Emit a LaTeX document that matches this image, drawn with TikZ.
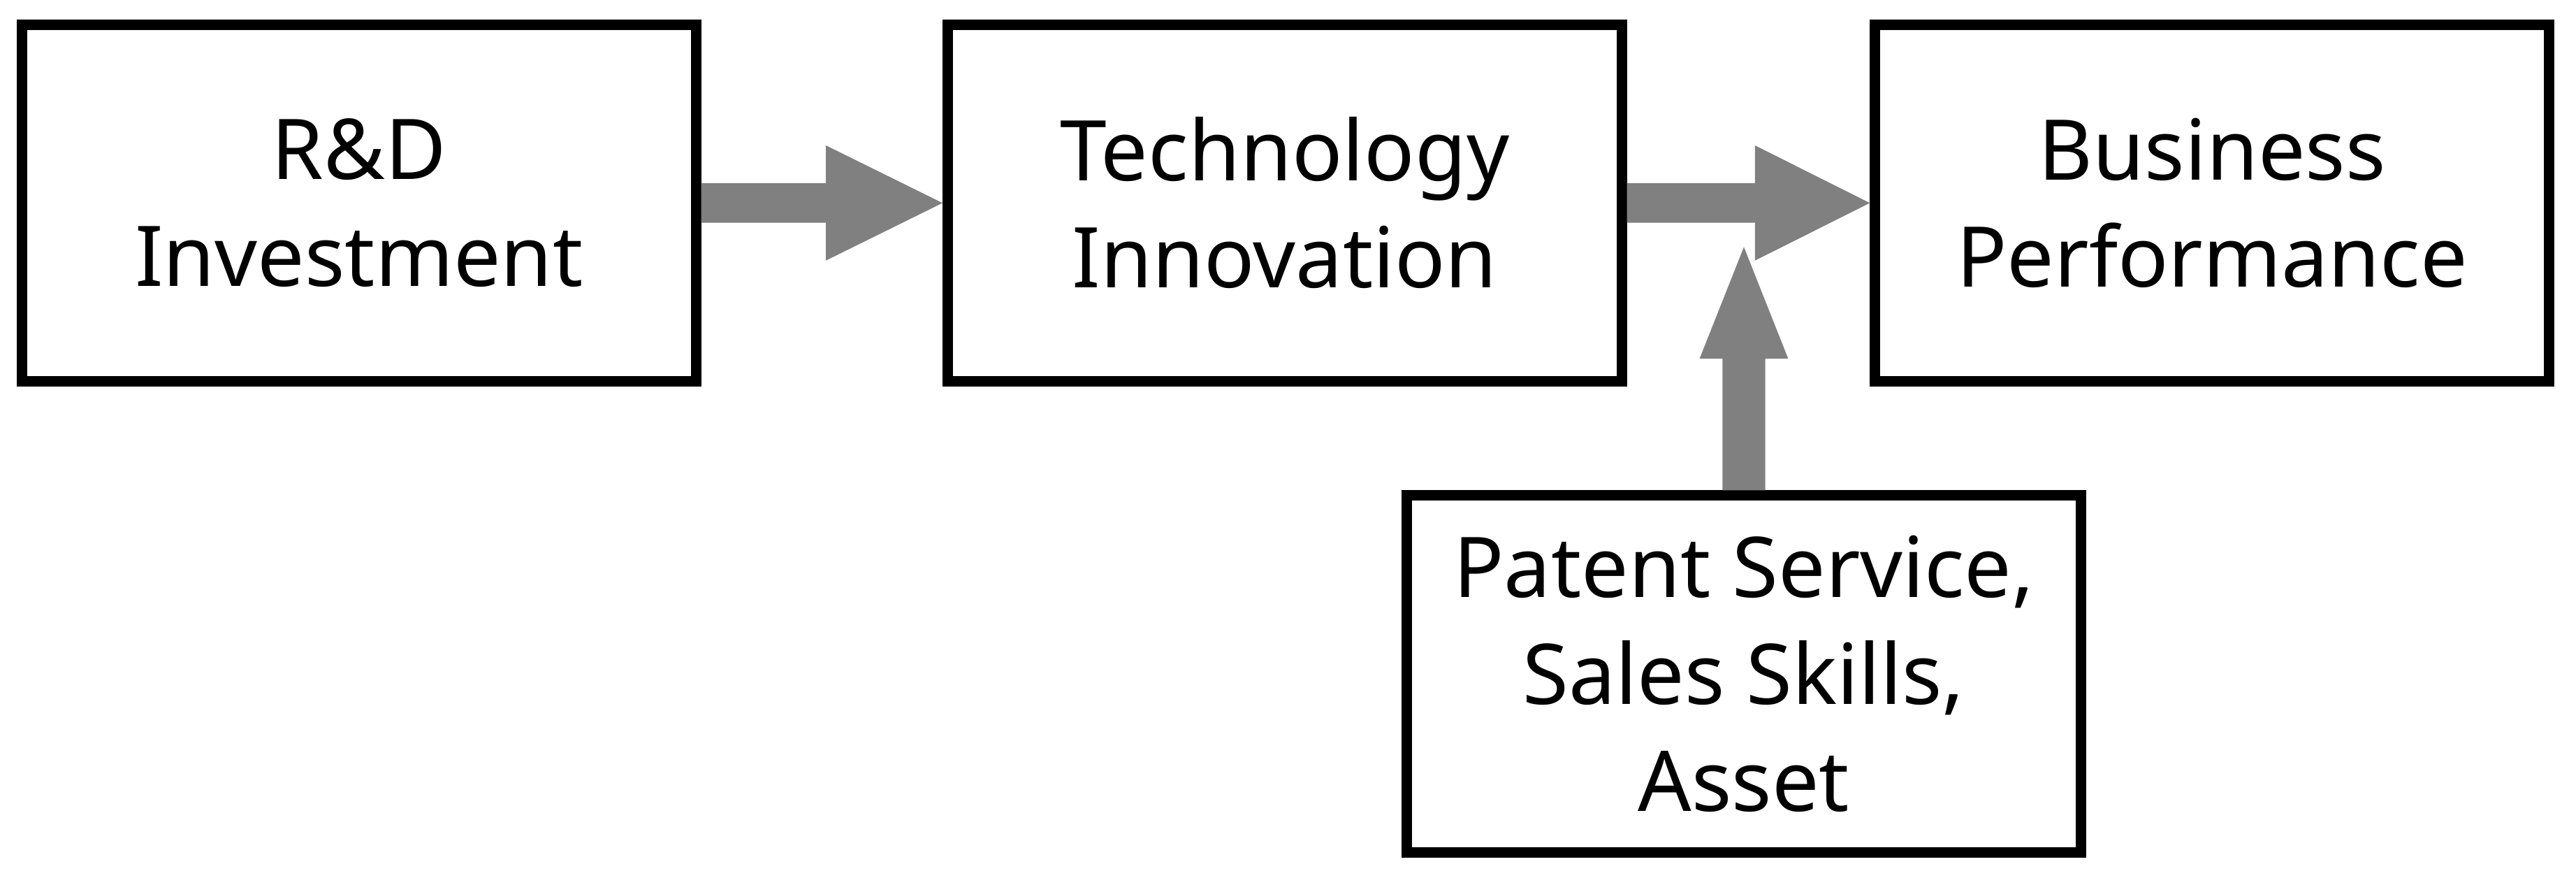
\documentclass[tikz,border=0pt]{standalone}
\usepackage{fontspec}
\setmainfont{Noto Sans}
\usetikzlibrary{calc}
\begin{document}
\begin{tikzpicture}[x=0.01cm,y=-0.01cm,
  box/.style={draw=black,line width=1.8pt,minimum width=4.1cm,minimum height=2.17cm,align=center,font=\fontsize{14.5}{18.5}\selectfont,inner sep=0pt},
  arr/.style={fill=gray,draw=none}]
\useasboundingbox (0,0) rectangle (1568,534);
\node[box] (a) at (218.5,123.5) {R\&D\\Investment};
\node[box] (b) at (782,123.5) {Technology\\Innovation};
\node[box] (c) at (1346.5,123.5) {Business\\Performance};
\node[box] (d) at (1061.5,410) {Patent Service,\\Sales Skills,\\Asset};
\fill[arr] ($(a.east)+(0,-12)$) -- ($(a.east)+(76,-12)$) -- ($(a.east)+(76,-35)$) -- (b.west) -- ($(a.east)+(76,35)$) -- ($(a.east)+(76,12)$) -- ($(a.east)+(0,12)$) -- cycle;
\fill[arr] ($(b.east)+(0,-12)$) -- ($(b.east)+(78,-12)$) -- ($(b.east)+(78,-35)$) -- (c.west) -- ($(b.east)+(78,35)$) -- ($(b.east)+(78,12)$) -- ($(b.east)+(0,12)$) -- cycle;
\fill[arr] ($(d.north)+(-13,0)$) -- ($(d.north)+(-13,-80)$) -- ($(d.north)+(-27,-80)$) -- ($(d.north)+(0,-148)$) -- ($(d.north)+(27,-80)$) -- ($(d.north)+(13,-80)$) -- ($(d.north)+(13,0)$) -- cycle;
\end{tikzpicture}
\end{document}
